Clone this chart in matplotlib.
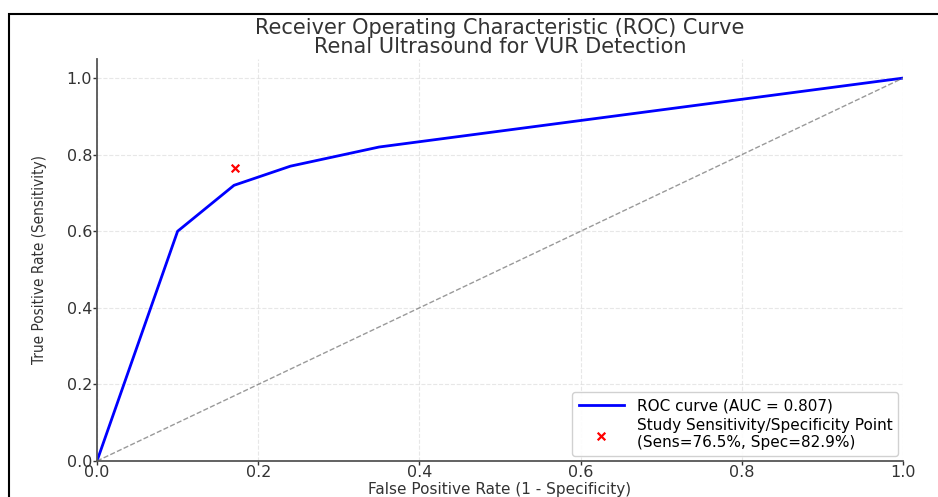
import matplotlib
matplotlib.use("Agg")
import matplotlib.pyplot as plt
from matplotlib.patches import Rectangle

# --- Données ---
fpr = [0.0, 0.10, 0.17, 0.24, 0.35, 1.0]
tpr = [0.0, 0.60, 0.72, 0.77, 0.82, 1.0]
auc_value = 0.807
study_fpr = [1 - 0.829]
study_tpr = [0.765]
ticks = [0.0, 0.2, 0.4, 0.6, 0.8, 1.0]

fig = plt.figure(figsize=(9.38, 4.97), dpi=100)
ax = fig.add_axes([0.1034, 0.0724, 0.8593, 0.809])

ax.plot(fpr, tpr, color='blue', lw=2, label=f'ROC curve (AUC = {auc_value:.3f})')
ax.plot([0, 1], [0, 1], color='gray', lw=1, ls='--', alpha=0.8)
ax.scatter(study_fpr, study_tpr, color='red', marker='x', s=30, lw=1.6, zorder=5,
           label='Study Sensitivity/Specificity Point\n(Sens=76.5%, Spec=82.9%)')

ax.set_xlim(0, 1)
ax.set_ylim(0, 1.05)
ax.set_xticks(ticks)
ax.set_yticks(ticks)
ax.tick_params(labelsize=11.5, colors='#333333', length=3, pad=0.5, width=1)
ax.tick_params(axis='x', pad=0)
ax.grid(True, ls='--', color='#dddddd', lw=0.8, alpha=0.7)
for s in ['top', 'right']:
    ax.spines[s].set_visible(False)
for s in ['left', 'bottom']:
    ax.spines[s].set_color('#555555')
    ax.spines[s].set_linewidth(1.3)

ax.set_xlabel('False Positive Rate (1 - Specificity)', fontsize=11, color='#333333', labelpad=1)
ax.set_ylabel('True Positive Rate (Sensitivity)', fontsize=11, color='#333333',
              fontstretch='condensed', labelpad=14)
ax.set_title('Receiver Operating Characteristic (ROC) Curve\nRenal Ultrasound for VUR Detection',
             fontsize=15, color='#333333', linespacing=0.95, pad=4)

ax.legend(loc='lower right', fontsize=11, framealpha=0.9, edgecolor='#cccccc',
          handlelength=3, borderaxespad=0.3, labelspacing=0.3)

# cadre noir autour de l'image
fig.patches.append(Rectangle((9 / 938, -0.1), 1.2, 1 - 14 / 497 + 0.1,
                             transform=fig.transFigure, fill=False, ec='black', lw=1.5))

fig.savefig('out.png', dpi=100)
